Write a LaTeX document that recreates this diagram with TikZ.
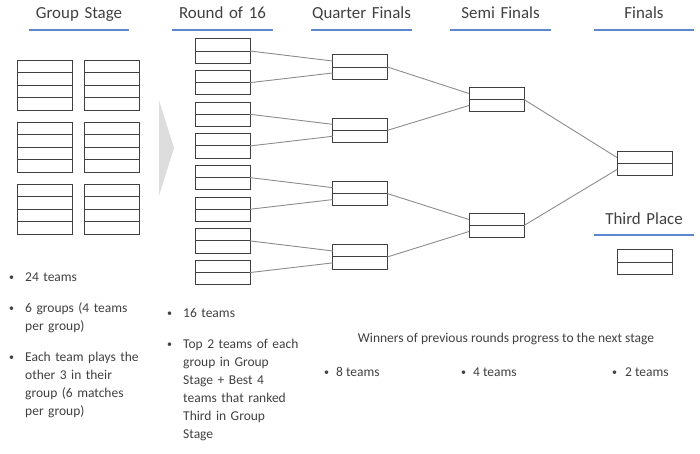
\documentclass[tikz,border=0pt]{standalone}
\usepackage{fontspec}
\setmainfont{Carlito}
\usepackage{tikz}
\usetikzlibrary{positioning}
\definecolor{ink}{HTML}{404040}
\definecolor{ruleblue}{HTML}{5B87CF}
\definecolor{frame}{HTML}{404040}
\definecolor{linkgray}{HTML}{8C8C8C}
\definecolor{flowgray}{HTML}{DDDDDD}
\newcommand{\headfont}{\fontsize{16.9}{20}\selectfont}
\newcommand{\notefont}{\fontsize{13.5}{18}\selectfont}
\newcommand{\bulletmark}{\raisebox{1pt}{\fontsize{10}{10}\selectfont\textbullet}}
\newcommand{\bul}[2][16pt]{\hangindent=#1\hangafter=1\noindent\makebox[#1][l]{\bulletmark}#2\par}

\begin{document}
\begin{tikzpicture}[
    x=1pt, y=-1pt,
    node distance=7.15pt and 12pt,
    stagehead/.style={font=\headfont, text=ink, text width=100pt, align=center, text depth=3pt, inner xsep=0pt, inner ysep=8pt, anchor=base},
    headrule/.style={fill=ruleblue, draw=none},
    groupbox/.style={draw=frame, line width=1pt, minimum width=55pt, minimum height=50pt, inner sep=0pt, outer sep=0pt,
        path picture={\foreach \k in {1,2,3} \draw[frame, line width=1pt] ([yshift=\k*12.5pt]path picture bounding box.south west) -- ([yshift=\k*12.5pt]path picture bounding box.south east);}},
    matchbox/.style={draw=frame, line width=1pt, minimum width=55pt, minimum height=24.5pt, inner sep=0pt, outer sep=0pt,
        path picture={\draw[frame, line width=1pt] (path picture bounding box.west) -- (path picture bounding box.east);}},
    link/.style={draw=linkgray, line width=0.9pt},
    note/.style={font=\notefont, text=ink, inner sep=0pt, anchor=base west},
    notelist/.style={note, text width=140pt}
]
\useasboundingbox (0,0) rectangle (700,453);

% stage headings
\node[stagehead] (hgroup) at (79,18.5) {Group Stage};
\node[stagehead] (h16) at (222.5,18.5) {Round of 16};
\node[stagehead] (hqf) at (361.5,18.5) {Quarter Finals};
\node[stagehead] (hsf) at (500.5,18.5) {Semi Finals};
\node[stagehead] (hfin) at (644,18.5) {Finals};
\node[stagehead] (hthird) at (644,224) {Third Place};
\fill[headrule] ([yshift=0.8pt]hgroup.south west) rectangle ([yshift=-0.8pt]hgroup.south east);
\fill[headrule] ([yshift=0.8pt]h16.south west) rectangle ([yshift=-0.8pt]h16.south east);
\fill[headrule] ([yshift=0.8pt]hqf.south west) rectangle ([yshift=-0.8pt]hqf.south east);
\fill[headrule] ([yshift=0.8pt]hsf.south west) rectangle ([yshift=-0.8pt]hsf.south east);
\fill[headrule] ([yshift=0.8pt]hfin.south west) rectangle ([yshift=-0.8pt]hfin.south east);
\fill[headrule] ([yshift=0.8pt]hthird.south west) rectangle ([yshift=-0.8pt]hthird.south east);

% groups
\node[groupbox] (g1) at (44.5,85) {};
\node[groupbox, right=of g1] (g2) {};
\node[groupbox, below=12pt of g1] (g3) {};
\node[groupbox, right=of g3] (g4) {};
\node[groupbox, below=12pt of g3] (g5) {};
\node[groupbox, right=of g5] (g6) {};

\fill[flowgray] (159,100) -- (174,148) -- (159,196) -- cycle;

% round of 16
\node[matchbox] (r1) at (222.5,51) {};
\node[matchbox, below=of r1] (r2) {};
\node[matchbox, below=of r2] (r3) {};
\node[matchbox, below=of r3] (r4) {};
\node[matchbox, below=of r4] (r5) {};
\node[matchbox, below=of r5] (r6) {};
\node[matchbox, below=of r6] (r7) {};
\node[matchbox, below=of r7] (r8) {};

% quarter finals, semi finals, finals
\node[matchbox] (q1) at (360,67) {};
\node[matchbox, below=38.8pt of q1] (q2) {};
\node[matchbox, below=38.8pt of q2] (q3) {};
\node[matchbox, below=38.8pt of q3] (q4) {};
\node[matchbox] (s1) at (496.5,99.5) {};
\node[matchbox, below=101.5pt of s1] (s2) {};
\node[matchbox] (fin) at (644.5,163.5) {};
\node[matchbox] (third) at (644.5,262) {};

\draw[link] (r1.east) -- ([yshift=6pt]q1.west);
\draw[link] (r2.east) -- ([yshift=-6pt]q1.west);
\draw[link] (r3.east) -- ([yshift=6pt]q2.west);
\draw[link] (r4.east) -- ([yshift=-6pt]q2.west);
\draw[link] (r5.east) -- ([yshift=6pt]q3.west);
\draw[link] (r6.east) -- ([yshift=-6pt]q3.west);
\draw[link] (r7.east) -- ([yshift=6pt]q4.west);
\draw[link] (r8.east) -- ([yshift=-6pt]q4.west);
\draw[link] (q1.east) -- ([yshift=6pt]s1.west);
\draw[link] (q2.east) -- ([yshift=-6pt]s1.west);
\draw[link] (q3.east) -- ([yshift=6pt]s2.west);
\draw[link] (q4.east) -- ([yshift=-6pt]s2.west);
\draw[link] (s1.east) -- ([yshift=6pt]fin.west);
\draw[link] (s2.east) -- ([yshift=-6pt]fin.west);

% notes
\node[notelist] (ngroup1) at (9,281) {\bul{24 teams}};
\node[notelist] (ngroup2) at (9,312) {\bul{6 groups (4 teams\newline per group)}};
\node[notelist] (ngroup3) at (9,361) {\bul{Each team plays the\newline other 3 in their\newline group (6 matches\newline per group)}};
\node[notelist] (n16a) at (167,317) {\bul{16 teams}};
\node[notelist] (n16b) at (167,348) {\bul{Top 2 teams of each\newline group in Group\newline Stage + Best 4\newline teams that ranked\newline Third in Group\newline Stage}};
\node[note, anchor=base] (nwin) at (506,342) {Winners of previous rounds progress to the next stage};
\node[note] (n8) at (324,376) {\bul[12pt]{8 teams}};
\node[note] (n4) at (461,376) {\bul[12pt]{4 teams}};
\node[note] (n2) at (612,376) {\bul[13pt]{2 teams}};
\end{tikzpicture}
\end{document}
